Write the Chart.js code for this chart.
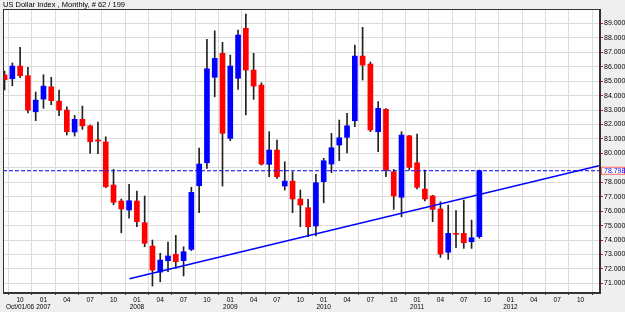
<!DOCTYPE html>
<html><head><meta charset="utf-8">
<script src="https://cdn.jsdelivr.net/npm/chart.js@4.4.1/dist/chart.umd.min.js"></script>
<style>html,body{margin:0;padding:0;background:#efefef;}#wrap{width:625px;height:312px;}</style>
</head><body><div id="wrap"><canvas id="c" width="625" height="312"></canvas></div>
<script>
// Monthly bars, Aug 2006 .. Sep 2011 (index 0..61)
const opens  = [85.43,85.17,86.05,85.38,82.88,83.76,84.61,83.62,83.00,81.48,82.36,81.91,80.93,80.79,77.81,76.70,76.08,76.70,75.20,73.58,71.78,72.57,73.01,72.57,73.35,77.76,79.35,85.27,86.93,81.04,85.20,88.66,85.77,84.73,79.24,80.23,77.74,78.08,76.84,76.24,74.97,78.04,79.26,80.58,81.11,82.26,86.74,86.19,81.50,83.05,78.73,76.96,81.22,79.35,77.53,77.05,76.15,73.15,74.46,74.46,73.88,74.23];
const highs  = [85.70,86.26,87.34,85.96,84.25,85.45,85.27,84.39,83.23,82.63,83.28,81.96,82.17,81.15,78.89,76.84,77.86,77.39,77.05,74.00,73.08,73.86,74.32,73.53,77.65,80.37,87.90,88.49,87.69,86.81,88.54,89.65,86.93,84.89,81.50,80.92,79.42,78.73,77.46,76.82,78.55,79.66,81.39,82.31,82.77,87.50,88.73,86.33,83.58,83.10,78.89,81.50,81.25,81.34,78.85,77.10,76.65,76.42,76.03,76.77,75.38,78.85];
const lows   = [84.39,84.68,85.24,82.81,82.26,83.12,83.37,82.61,81.27,81.20,81.66,80.00,79.98,77.62,76.44,74.50,75.52,74.92,73.53,70.81,71.11,71.80,72.04,71.51,73.26,75.89,78.96,83.92,77.74,80.88,84.43,82.66,83.74,79.19,78.38,78.27,77.46,75.89,74.92,74.23,74.28,76.58,78.66,79.49,80.04,81.85,85.08,81.50,80.11,78.38,76.12,75.61,78.85,77.53,76.70,75.27,72.80,72.66,73.47,73.42,73.42,74.12];
const closes = [85.10,86.05,85.38,83.00,83.69,84.66,83.65,83.00,81.50,82.36,81.91,80.81,80.85,77.69,76.61,76.15,76.72,75.27,73.77,71.92,72.61,72.89,72.50,73.19,77.30,79.26,85.86,86.58,81.39,86.05,88.20,85.77,84.66,79.26,80.23,78.38,78.08,76.84,76.42,74.92,77.97,79.49,80.39,81.08,81.91,86.74,86.12,81.62,83.12,78.85,77.05,81.27,79.03,77.65,76.84,76.12,73.03,74.46,74.39,73.81,74.16,78.798];
// x tick positions (month index from Aug 2006) and labels
const tickPos   = [2,5,8,11,14,17,20,23,26,29,32,35,38,41,44,47,50,53,56,59,62,65,68,71,74];
const tickMonth = ['10','01','04','07','10','01','04','07','10','01','04','07','10','01','04','07','10','01','04','07','10','01','04','07','10'];
const tickYear  = ['Oct/01/06','2007','','','','2008','','','','2009','','','','2010','','','','2011','','','','2012','','',''];
const yTicks = [71,72,73,74,75,76,77,78,79,80,81,82,83,84,85,86,87,88,89];
const trendX = [16.05, 76.5];
const trendY = [71.32, 79.17];
const lastPrice = 78.798;
const xMin = -0.2, xMax = 76.5, yMin = 70.33, yMax = 90;

const FONT = 'Liberation Sans';
const bodies = opens.map((o,i)=>({x:i, y:[o, closes[i]]}));
const wicks = lows.map((l,i)=>({x:i, y:[l, highs[i]]}));
const bodyColors = opens.map((o,i)=> closes[i] >= o ? '#0000ff' : '#ff0000');

const bgPlugin = {
  id:'bg',
  beforeDraw(chart){
    const {ctx, chartArea:a} = chart;
    ctx.save();
    ctx.fillStyle = '#efefef';
    ctx.fillRect(0,0,chart.width,chart.height);
    ctx.fillStyle = '#ffffff';
    ctx.fillRect(a.left,a.top,a.right-a.left,a.bottom-a.top);
    ctx.restore();
  },
  afterDraw(chart){
    const {ctx, chartArea:a} = chart;
    ctx.save();
    ctx.strokeStyle = '#333';
    ctx.lineWidth = 1;
    ctx.strokeRect(a.left+0.5, a.top+0.5, a.right-a.left-1, a.bottom-a.top-1);
    const y = chart.scales.y.getPixelForValue(lastPrice);
    ctx.fillStyle = '#ffffff';
    ctx.fillRect(a.right+1, y-4, 24, 8);
    ctx.strokeStyle = '#ff6060';
    ctx.strokeRect(a.right+1.5, y-3.5, 23, 7);
    ctx.fillStyle = '#0000ff';
    ctx.font = '7px ' + FONT;
    ctx.textBaseline = 'middle';
    ctx.fillText(lastPrice.toFixed(3), a.right+4, y+0.5);
    ctx.restore();
  }
};

new Chart(document.getElementById('c'), {
  type:'bar',
  data:{datasets:[
    {type:'line', data:trendX.map((x,i)=>({x, y:trendY[i]})), borderColor:'#0000ff', borderWidth:1.5, pointRadius:0, order:0},
    {type:'line', data:[{x:xMin,y:lastPrice},{x:xMax,y:lastPrice}], borderColor:'#0000ff', borderWidth:1, borderDash:[4,2], pointRadius:0, order:0},
    {data:bodies, backgroundColor:bodyColors, barThickness:5, grouped:false, minBarLength:1, order:1},
    {data:wicks, backgroundColor:'#222', barThickness:1, grouped:false, order:2}
  ]},
  options:{
    responsive:false, animation:false,
    layout:{padding:{left:3, top:0, right:0, bottom:0}},
    plugins:{
      legend:{display:false}, tooltip:{enabled:false},
      title:{display:true, text:'US Dollar Index , Monthly, # 62 / 199', align:'start', color:'#000',
             font:{family:FONT, size:7.5, weight:'normal', lineHeight:1.2}, padding:{top:0,bottom:0}}
    },
    scales:{
      x:{type:'linear', min:xMin, max:xMax, offset:false,
         afterBuildTicks(s){ s.ticks = tickPos.map(v=>({value:v})); },
         afterFit(s){ s.height = 19; },
         ticks:{autoSkip:false, maxRotation:0, padding:1, color:'#000', font:{family:FONT, size:6.5, lineHeight:1.2},
                callback(v){ const j = tickPos.indexOf(v); return j<0 ? '' : [tickMonth[j], tickYear[j]]; }},
         grid:{color:'#dcdcdc', lineWidth:1, tickLength:2, tickColor:'#333'},
         border:{display:true, color:'#333'}},
      y:{position:'right', min:yMin, max:yMax,
         afterBuildTicks(s){ s.ticks = yTicks.map(v=>({value:v})); },
         afterFit(s){ s.width = 25; },
         ticks:{padding:1, color:'#000', font:{family:FONT, size:7},
                callback(v){ return v === 79 ? '' : v.toFixed(3); }},
         grid:{color:'#dcdcdc', lineWidth:1, tickLength:3, tickColor:'#ff0000'},
         border:{display:true, color:'#333'}}
    }
  },
  plugins:[bgPlugin]
});
</script></body></html>
